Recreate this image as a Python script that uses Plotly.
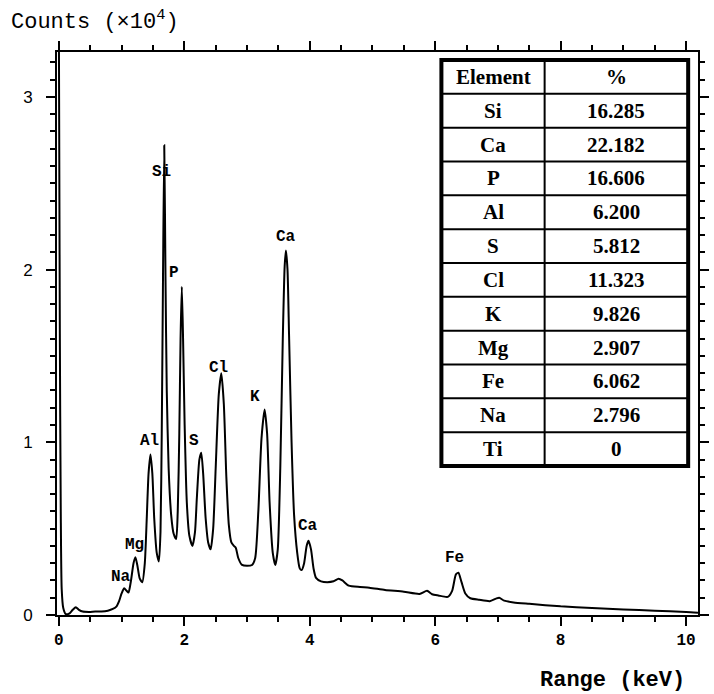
import plotly.graph_objects as go

# ---------------- data ----------------
energy_kev = [0.00, 0.015, 0.03, 0.045, 0.07, 0.11, 0.17, 0.22, 0.27, 0.32, 0.38, 0.48, 0.58, 0.68, 0.78,
              0.86, 0.92, 0.96, 1.00, 1.04, 1.08, 1.11, 1.15, 1.19, 1.22, 1.25, 1.29, 1.33, 1.37, 1.40,
              1.43, 1.46, 1.49, 1.52, 1.56, 1.595, 1.62, 1.64, 1.66, 1.68, 1.70, 1.72, 1.75, 1.79, 1.83,
              1.87, 1.895, 1.92, 1.94, 1.96, 1.98, 2.005, 2.04, 2.08, 2.13, 2.17, 2.20, 2.24, 2.27, 2.30,
              2.34, 2.38, 2.42, 2.46, 2.50, 2.55, 2.59, 2.63, 2.67, 2.71, 2.75, 2.79, 2.82, 2.86, 2.92,
              3.00, 3.08, 3.13, 3.18, 3.23, 3.28, 3.32, 3.36, 3.41, 3.45, 3.49, 3.53, 3.57, 3.60, 3.62,
              3.645, 3.67, 3.71, 3.75, 3.80, 3.84, 3.87, 3.91, 3.95, 3.98, 4.02, 4.06, 4.10, 4.18, 4.28,
              4.38, 4.46, 4.52, 4.62, 4.80, 4.95, 5.20, 5.50, 5.75, 5.87, 5.95, 6.05, 6.20, 6.27, 6.33,
              6.37, 6.42, 6.48, 6.56, 6.70, 6.87, 6.97, 7.02, 7.10, 7.25, 7.50, 8.00, 8.50, 9.00, 9.50,
              10.00, 10.19]
counts_e4 = [3.40, 1.65, 0.60, 0.15, 0.04, 0.005, 0.01, 0.03, 0.045, 0.03, 0.02, 0.018, 0.02, 0.02, 0.025,
             0.035, 0.05, 0.08, 0.125, 0.155, 0.14, 0.13, 0.20, 0.30, 0.335, 0.29, 0.21, 0.19, 0.30, 0.55,
             0.82, 0.93, 0.82, 0.56, 0.36, 0.31, 0.48, 1.05, 1.95, 2.72, 1.95, 1.30, 0.85, 0.58, 0.47,
             0.44, 0.60, 1.05, 1.60, 1.90, 1.60, 1.10, 0.65, 0.46, 0.40, 0.48, 0.68, 0.90, 0.94, 0.82,
             0.56, 0.42, 0.38, 0.50, 0.85, 1.28, 1.40, 1.22, 0.80, 0.52, 0.42, 0.40, 0.39, 0.33, 0.29,
             0.285, 0.29, 0.33, 0.60, 1.02, 1.19, 1.05, 0.65, 0.36, 0.29, 0.38, 0.85, 1.60, 2.02, 2.11,
             2.00, 1.62, 1.00, 0.58, 0.36, 0.27, 0.26, 0.30, 0.40, 0.43, 0.38, 0.27, 0.215, 0.195, 0.19,
             0.195, 0.21, 0.20, 0.17, 0.162, 0.158, 0.145, 0.135, 0.122, 0.14, 0.12, 0.113, 0.105, 0.14, 0.235,
             0.245, 0.19, 0.125, 0.097, 0.088, 0.08, 0.095, 0.10, 0.083, 0.073, 0.065, 0.05, 0.04, 0.032, 0.025,
             0.018, 0.013]

peak_labels = ["Na", "Mg", "Al", "Si", "P", "S", "Cl", "K", "Ca", "Ca", "Fe"]

table_elements = ["Si", "Ca", "P", "Al", "S", "Cl", "K", "Mg", "Fe", "Na", "Ti"]
table_percent = ["16.285", "22.182", "16.606", "6.200", "5.812", "11.323", "9.826", "2.907", "6.062", "2.796", "0"]

x_tick_vals = [0, 2, 4, 6, 8, 10]
y_tick_vals = [0, 1, 2, 3]

# ---------------- layout geometry (pixels) ----------------
W, H = 714, 694
L, R, T, B = 57, 709, 52, 615          # plot area edges


def px_x(px):
    return (px - L) / (R - L)


def px_y(py):
    return (B - py) / (B - T)


MONO = "Liberation Mono, DejaVu Sans Mono, monospace"
SERIF = "Liberation Serif, DejaVu Serif, serif"
SANS = "Liberation Sans, Arial, sans-serif"

fig = go.Figure()
fig.add_trace(go.Scatter(
    x=energy_kev, y=counts_e4, mode="lines",
    line=dict(color="black", width=2, shape="spline", smoothing=0.6),
    hoverinfo="x+y", showlegend=False))

# peak label placements (data coords of label centres)
label_pos = [(0.99, 0.22), (1.21, 0.405), (1.44, 1.01), (1.63, 2.565), (1.83, 1.98), (2.16, 1.01),
             (2.54, 1.43), (3.13, 1.26), (3.62, 2.19), (3.97, 0.515), (6.30, 0.33)]
annotations = []
for name, (lx, ly) in zip(peak_labels, label_pos):
    annotations.append(dict(x=lx, y=ly, xref="x", yref="y", text=name, showarrow=False,
                            font=dict(family=MONO, size=16, color="black", weight="bold"),
                            xanchor="center", yanchor="middle"))

# axis titles
annotations.append(dict(x=px_x(8), y=px_y(21), xref="paper", yref="paper",
                        text="Counts (×10<sup>4</sup>)", showarrow=False,
                        font=dict(family=MONO, size=22, color="black"),
                        xanchor="left", yanchor="middle"))
annotations.append(dict(x=px_x(622), y=px_y(680), xref="paper", yref="paper",
                        text="Range (keV)", showarrow=False,
                        font=dict(family=MONO, size=22, color="black", weight="bold"),
                        xanchor="center", yanchor="middle"))

# ---------------- table inset ----------------
tL, tC, tR, tT, tB = 448, 553, 699, 60, 466
n_rows = len(table_elements) + 1
row_h = (tB - tT) / n_rows
shapes = [dict(type="rect", xref="paper", yref="paper",
               x0=px_x(tL), x1=px_x(tR), y0=px_y(tB), y1=px_y(tT),
               line=dict(color="black", width=4), fillcolor="white", layer="above")]
shapes.append(dict(type="line", xref="paper", yref="paper",
                   x0=px_x(tC), x1=px_x(tC), y0=px_y(tB), y1=px_y(tT),
                   line=dict(color="black", width=2), layer="above"))
for i in range(1, n_rows):
    yy = tT + i * row_h
    shapes.append(dict(type="line", xref="paper", yref="paper",
                       x0=px_x(tL), x1=px_x(tR), y0=px_y(yy), y1=px_y(yy),
                       line=dict(color="black", width=2), layer="above"))

rows = [("Element", "%")] + list(zip(table_elements, table_percent))
for i, (c1, c2) in enumerate(rows):
    yc = tT + (i + 0.5) * row_h
    for txt, xc in ((c1, (tL + tC) / 2), (c2, (tC + tR) / 2)):
        annotations.append(dict(x=px_x(xc), y=px_y(yc), xref="paper", yref="paper", text=txt,
                                showarrow=False, font=dict(family=SERIF, size=21, color="black", weight="bold"),
                                xanchor="center", yanchor="middle"))

fig.update_layout(
    width=W, height=H, autosize=False,
    margin=dict(l=L, r=W - R, t=T, b=H - B, pad=0),
    paper_bgcolor="white", plot_bgcolor="white",
    showlegend=False,
    xaxis=dict(range=[-0.03, 10.19], tickvals=x_tick_vals, ticktext=[str(v) for v in x_tick_vals],
               ticks="outside", ticklen=9, tickwidth=2, tickcolor="black",
               minor=dict(dtick=0.5, ticks="outside", ticklen=5, tickwidth=1.5, tickcolor="black"),
               showline=True, linecolor="black", linewidth=2, mirror="allticks",
               showgrid=False, zeroline=False,
               tickfont=dict(family=MONO, size=16, color="black", weight="bold")),
    yaxis=dict(range=[0, 3.26], tickvals=y_tick_vals, ticktext=[str(v) for v in y_tick_vals],
               ticks="outside", ticklen=9, tickwidth=2, tickcolor="black",
               minor=dict(dtick=0.1, ticks="outside", ticklen=5, tickwidth=1.5, tickcolor="black"),
               showline=True, linecolor="black", linewidth=2, mirror="allticks",
               showgrid=False, zeroline=False, ticklabelstandoff=10,
               tickfont=dict(family=SANS, size=17, color="black")),
    annotations=annotations,
    shapes=shapes,
)

fig.write_html("out.html", config={"responsive": False, "displayModeBar": False},
               post_script="document.body.style.margin='0px';")
